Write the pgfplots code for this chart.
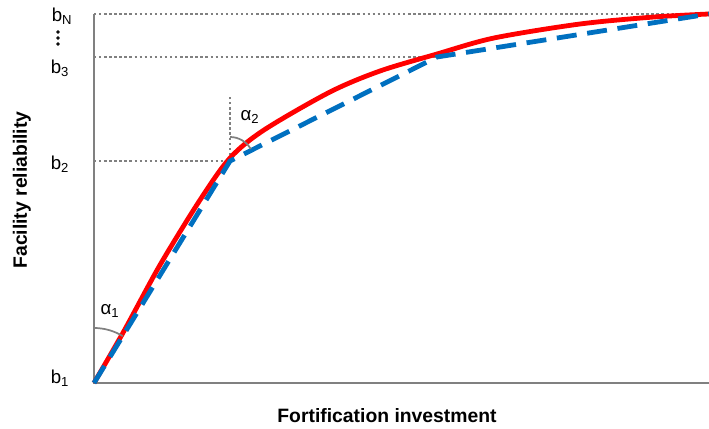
\documentclass[border=0pt]{standalone}
\usepackage{fontspec}
\setmainfont{Liberation Sans}
\usepackage{pgfplots}
\pgfplotsset{compat=1.18}
\definecolor{curvered}{RGB}{255,0,0}
\definecolor{dashblue}{RGB}{0,112,192}
\definecolor{axisgray}{RGB}{128,128,128}
\begin{document}
\begin{tikzpicture}
\begin{axis}[
    scale only axis,
    x=0.75pt, y=0.75pt,
    xmin=0, xmax=615,
    ymin=0, ymax=369,
    axis lines=none,
    ticks=none,
    clip=false,
]
% axes
\addplot[axisgray, line width=2.2pt] coordinates {(0,369) (0,0) (615,0)};

% guide lines
\addplot[axisgray, line width=1.8pt, dash pattern=on 1.8pt off 2pt] coordinates {(0,222) (136,222) (136,288)};
\addplot[axisgray, line width=1.8pt, dash pattern=on 1.8pt off 2pt] coordinates {(0,326) (343,326)};
\addplot[axisgray, line width=1.8pt, dash pattern=on 1.8pt off 2pt] coordinates {(0,369) (615,369)};

% reliability curve
\addplot[curvered, line width=3.6pt, smooth] coordinates {
  (0,0) (30,52) (66,118) (106,183) (136,225) (170,253) (236,291)
  (286,312) (343,329) (400,345) (486,359) (560,366) (615,369)};

% piecewise-linear approximation
\addplot[dashblue, line width=3.6pt, dash pattern=on 15pt off 8pt] coordinates {
  (0,0) (136,222) (343,326) (615,369)};

% vertical ellipsis between b_N and b_3
\addplot[only marks, mark=*, mark size=1.1pt, black] coordinates {(-36,351) (-36,345) (-36,339)};

% angle arcs
\draw[axisgray, line width=1.3pt] (axis cs:0,55) arc[start angle=90, end angle=58.5, radius=41.25pt];
\draw[axisgray, line width=1.3pt] (axis cs:136,246) arc[start angle=90, end angle=30, radius=18pt];

% labels
\node[font=\fontsize{14}{16}\selectfont] at (axis cs:-34,5) {b\textsubscript{1}};
\node[font=\fontsize{14}{16}\selectfont] at (axis cs:-34,219) {b\textsubscript{2}};
\node[font=\fontsize{14}{16}\selectfont] at (axis cs:-34,315) {b\textsubscript{3}};
\node[font=\fontsize{14}{16}\selectfont] at (axis cs:-32,367) {b\textsubscript{N}};
\node[font=\fontsize{14}{16}\selectfont] at (axis cs:16,72) {α\textsubscript{1}};
\node[font=\fontsize{14}{16}\selectfont] at (axis cs:156,266) {α\textsubscript{2}};
\node[font=\bfseries\fontsize{14.5}{16}\selectfont] at (axis cs:293,-33) {Fortification investment};
\node[font=\bfseries\fontsize{14.5}{16}\selectfont, rotate=90] at (axis cs:-72,193) {Facility reliability};

\coordinate (BL) at (axis cs:-94,-45);
\coordinate (TR) at (axis cs:615,383);
\end{axis}
\pgfresetboundingbox
\path (BL) rectangle (TR);
\end{tikzpicture}
\end{document}
